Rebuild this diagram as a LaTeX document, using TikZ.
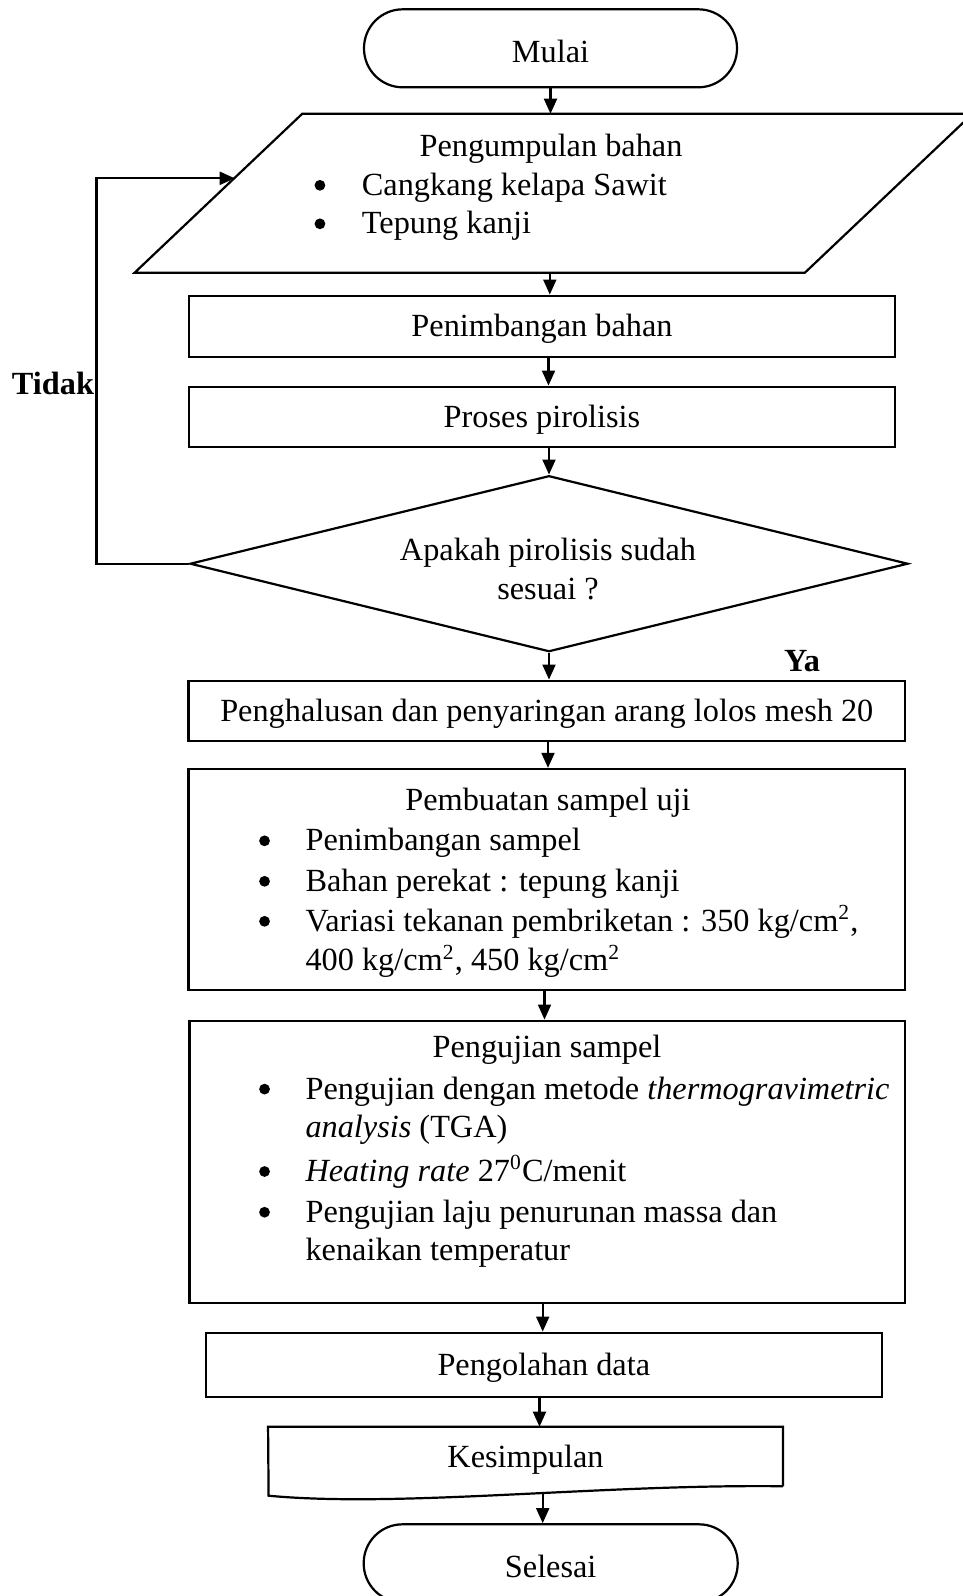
\documentclass[tikz,border=0pt]{standalone}
\usepackage{fontspec}
\setmainfont{Liberation Serif}
\usetikzlibrary{shapes.geometric,arrows.meta,calc}
\newlength{\pu}
\setlength{\pu}{0.3715pt}
\newcommand{\blt}[1]{\makebox[0pt]{\tikz[baseline=0pt]\fill (0,3.7pt) circle (2pt);}\hspace*{#1\pu}}
\tikzset{
  base/.style={font=\fontsize{12pt}{14pt}\selectfont, text height=10.6pt, text depth=2.6pt, inner sep=0pt},
  shapeline/.style={line width=0.82pt},
  box/.style={base, draw, shapeline, rectangle},
  term/.style={base, draw, shapeline, rectangle, rounded corners=14.4pt, text height=13.5pt},
  itm/.style={base, anchor=west},
  lab/.style={base, font=\fontsize{12pt}{14pt}\selectfont\bfseries},
  arr/.style={shapeline, -{Triangle[length=5.6pt,width=4.8pt]}},
}
\begin{document}
\begin{tikzpicture}[x=0.3715pt,y=-0.3715pt]
\useasboundingbox (0,0) rectangle (963,1596);

% Start
\node[term, minimum width=373\pu, minimum height=78\pu] (mulai) at (550.5,48.3) {Mulai};

% Input parallelogram
\node[base, minimum width=837\pu, minimum height=158\pu] (par) at (553.5,193.3) {};
\draw[shapeline] ($(par.north west)+(167.8,0)$) -- (par.north east)
  -- ($(par.south east)-(167.8,0)$) -- (par.south west) -- cycle;
\node[base] (part) at (551,146) {Pengumpulan bahan};
\node[itm] (pari1) at (319.4,184.5) {\blt{42}Cangkang kelapa Sawit};
\node[itm] (pari2) at (319.4,223) {\blt{42}Tepung kanji};

% Processes
\node[box, minimum width=706\pu, minimum height=61\pu] (pen) at (542,326.2) {Penimbangan bahan};
\node[box, minimum width=706\pu, minimum height=60.6\pu] (pro) at (542,417) {Proses pirolisis};

% Decision
\node[draw, shapeline, diamond, inner sep=0pt, minimum width=718\pu, minimum height=176\pu] (dia) at (549,563.7) {};
\node[base] (dt1) at (548,550) {Apakah pirolisis sudah};
\node[base] (dt2) at (548,588.3) {sesuai ?};
\node[lab] (tidak) at (53,384) {Tidak};
\node[lab] (ya) at (802,661) {Ya};

\node[box, minimum width=716.5\pu, minimum height=60\pu] (peng) at (546.8,710.7) {Penghalusan dan penyaringan arang lolos mesh 20};

% Pembuatan sampel uji
\node[box, minimum width=716.5\pu, minimum height=221\pu] (pemb) at (546.8,879.5) {};
\node[base] (pembt) at (548,799.5) {Pembuatan sampel uji};
\node[itm] (pembi1) at (264,840) {\blt{41}Penimbangan sampel};
\node[itm] (pembi2) at (264,880.5) {\blt{41}Bahan perekat : tepung kanji};
\node[itm] (pembi3) at (264,920.5) {\blt{41}Variasi tekanan pembriketan : 350 kg/cm\textsuperscript{2},};
\node[itm] (pembi4) at (305,960) {400 kg/cm\textsuperscript{2}, 450 kg/cm\textsuperscript{2}};

% Pengujian sampel
\node[box, minimum width=715.6\pu, minimum height=282\pu] (uji) at (547.2,1161.7) {};
\node[base] (ujit) at (547,1046.5) {Pengujian sampel};
\node[itm] (ujii1) at (264,1088.3) {\blt{41}Pengujian dengan metode \textit{thermogravimetric}};
\node[itm] (ujii2) at (305,1127) {\textit{analysis} (TGA)};
\node[itm] (ujii3) at (264,1170.7) {\blt{41}\textit{Heating rate} 27\textsuperscript{0}C/menit};
\node[itm] (ujii4) at (264,1211.4) {\blt{41}Pengujian laju penurunan massa dan};
\node[itm] (ujii5) at (305,1250) {kenaikan temperatur};

\node[box, minimum width=675.6\pu, minimum height=64\pu] (olah) at (543.8,1364.7) {Pengolahan data};

% Document shape
\node[base, minimum width=513.8\pu, minimum height=58.4\pu] (kes) at (525.5,1456.5) {Kesimpulan};
\draw[shapeline] (kes.south east) -- (kes.north east) -- (kes.north west) -- (268.6,1495.7)
  .. controls (400,1508) and (600,1484) .. (kes.south east);

% End
\node[term, minimum width=374\pu, minimum height=78\pu] (selesai) at (550.7,1563.3) {Selesai};

% Connectors
\coordinate (c1) at (549.8,0);
\coordinate (c2) at (548.5,0);
\coordinate (c3) at (548,0);
\coordinate (c4) at (544.5,0);
\coordinate (c5) at (542.7,0);
\coordinate (c6) at (539.5,0);
\coordinate (kesb) at (542.7,1493);
\coordinate (lpx) at (96.4,0);
\coordinate (lptip) at (234.8,178.3);

\draw[arr] (mulai.south) -- (mulai.south |- par.north);
\draw[arr] (c1 |- par.south) -- (c1 |- pen.north);
\draw[arr] (c2 |- pen.south) -- (c2 |- pro.north);
\draw[arr] (pro.south -| dia.north) -- (dia.north);
\draw[arr] (dia.south) -- (dia.south |- peng.north);
\draw[arr] (c3 |- peng.south) -- (c3 |- pemb.north);
\draw[arr] (c4 |- pemb.south) -- (c4 |- uji.north);
\draw[arr] (c5 |- uji.south) -- (c5 |- olah.north);
\draw[arr] (c6 |- olah.south) -- (c6 |- kes.north);
\draw[arr] (kesb) -- (kesb |- selesai.north);
\draw[arr] (dia.west) -- (dia.west -| lpx) -- (lpx |- lptip) -- (lptip);
\end{tikzpicture}
\end{document}
